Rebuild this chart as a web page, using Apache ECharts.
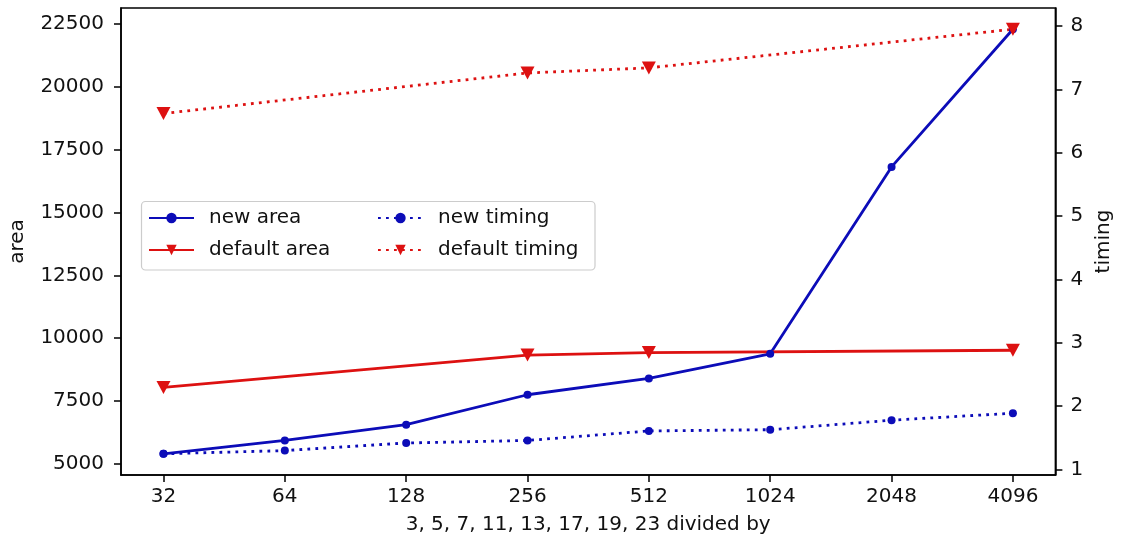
<!DOCTYPE html>
<html>
<head>
<meta charset="utf-8">
<script src="https://cdn.jsdelivr.net/npm/echarts@6/dist/echarts.min.js"></script>
<style>
  html, body { margin: 0; padding: 0; background: #fff; }
  #chart { width: 1122px; height: 544px; }
</style>
</head>
<body>
<div id="chart"></div>
<script>
// Divisor sizes (powers of two) on the x axis
const divisors = [32, 64, 128, 256, 512, 1024, 2048, 4096];
const defaultDivisors = [32, 256, 512, 4096];

// Area results (left axis)
const newArea = [5400, 5930, 6560, 7750, 8400, 9380, 16820, 22300];
const defaultArea = [8040, 9330, 9430, 9520];

// Timing results (right axis)
const newTiming = [1.25, 1.30, 1.42, 1.46, 1.61, 1.63, 1.78, 1.89];
const defaultTiming = [6.62, 7.26, 7.34, 7.95];

// Tick values
const areaTicks = [5000, 7500, 10000, 12500, 15000, 17500, 20000, 22500];
const timingTicks = [1, 2, 3, 4, 5, 6, 7, 8];

const BLUE = '#0c0cb8';
const RED = '#dd1111';
const FONT = 'DejaVu Sans';
const FS = 20;

// divisors are spaced evenly on a log2 scale
const lg = v => Math.log2(v);
const pairs = (xs, ys) => xs.map((x, i) => [lg(x), ys[i]]);

// 5% padding around the data range, like the plotting default
function padded(arrs) {
  const all = [].concat(...arrs);
  const lo = Math.min(...all), hi = Math.max(...all);
  const m = (hi - lo) * 0.05;
  return [lo - m, hi + m];
}
const xr = padded([divisors.map(lg)]);
const ar = padded([newArea, defaultArea]);
const tr = padded([newTiming, defaultTiming]);

const axisCommon = {
  axisLine: { show: true, lineStyle: { color: '#000', width: 1.5 } },
  axisTick: { show: true, length: 7, lineStyle: { color: '#000', width: 1.5 } },
  splitLine: { show: false },
  nameTextStyle: { fontFamily: FONT, fontSize: FS, color: '#111' }
};
const plain = v => String(Math.round(v));

const chart = echarts.init(document.getElementById('chart'), null, { renderer: 'canvas' });
chart.setOption({
  animation: false,
  backgroundColor: '#fff',
  textStyle: { fontFamily: FONT },
  grid: { left: 120, right: 64, top: 8, bottom: 69, show: true, borderColor: '#000', borderWidth: 1.5, backgroundColor: 'transparent' },
  xAxis: Object.assign({}, axisCommon, {
    type: 'value', min: xr[0], max: xr[1],
    name: '3, 5, 7, 11, 13, 17, 19, 23 divided by',
    nameLocation: 'middle', nameGap: 40,
    axisTick: Object.assign({}, axisCommon.axisTick, { customValues: divisors.map(lg) }),
    axisLabel: { customValues: divisors.map(lg), formatter: v => plain(Math.pow(2, v)),
      fontFamily: FONT, fontSize: FS, color: '#111', margin: 12 }
  }),
  yAxis: [
    Object.assign({}, axisCommon, {
      type: 'value', min: ar[0], max: ar[1], position: 'left',
      name: 'area', nameLocation: 'middle', nameGap: 93, nameRotate: 90,
      axisTick: Object.assign({}, axisCommon.axisTick, { customValues: areaTicks }),
      axisLabel: { customValues: areaTicks, formatter: plain, fontFamily: FONT, fontSize: FS, color: '#111', margin: 17 }
    }),
    Object.assign({}, axisCommon, {
      type: 'value', min: tr[0], max: tr[1], position: 'right',
      name: 'timing', nameLocation: 'middle', nameGap: 38, nameRotate: 90,
      axisTick: Object.assign({}, axisCommon.axisTick, { customValues: timingTicks }),
      axisLabel: { customValues: timingTicks, formatter: plain, fontFamily: FONT, fontSize: FS, color: '#111', margin: 15 }
    })
  ],
  graphic: [{
    type: 'rect', z: 1,
    shape: { x: 141.5, y: 201.5, width: 453.5, height: 68.5, r: 4 },
    style: { fill: 'rgba(255,255,255,0.8)', stroke: '#cccccc', lineWidth: 1.2 }
  }],
  legend: [
    {
      data: ['new area', 'default area'], orient: 'vertical',
      left: 148, top: 208, padding: 0, itemGap: 12, itemWidth: 45, itemHeight: 13, z: 5,
      textStyle: { fontFamily: FONT, fontSize: FS, color: '#111', lineHeight: 20, padding: [0, 0, 0, 10] }
    },
    {
      data: ['new timing', 'default timing'], orient: 'vertical',
      left: 377, top: 208, padding: 0, itemGap: 12, itemWidth: 45, itemHeight: 13, z: 5,
      textStyle: { fontFamily: FONT, fontSize: FS, color: '#111', lineHeight: 20, padding: [0, 0, 0, 10] }
    }
  ],
  series: [
    {
      name: 'new area', type: 'line', yAxisIndex: 0,
      data: pairs(divisors, newArea),
      symbol: 'circle', symbolSize: 8,
      lineStyle: { color: BLUE, width: 2.8 }, itemStyle: { color: BLUE }
    },
    {
      name: 'default area', type: 'line', yAxisIndex: 0,
      data: pairs(defaultDivisors, defaultArea),
      symbol: 'triangle', symbolRotate: 180, symbolSize: [14, 13],
      lineStyle: { color: RED, width: 2.8 }, itemStyle: { color: RED }
    },
    {
      name: 'new timing', type: 'line', yAxisIndex: 1,
      data: pairs(divisors, newTiming),
      symbol: 'circle', symbolSize: 8,
      lineStyle: { color: BLUE, width: 2.8, type: [2.8, 5.2], cap: 'butt' }, itemStyle: { color: BLUE }
    },
    {
      name: 'default timing', type: 'line', yAxisIndex: 1,
      data: pairs(defaultDivisors, defaultTiming),
      symbol: 'triangle', symbolRotate: 180, symbolSize: [14, 13],
      lineStyle: { color: RED, width: 2.8, type: [2.8, 5.2], cap: 'butt' }, itemStyle: { color: RED }
    }
  ]
});
</script>
</body>
</html>
